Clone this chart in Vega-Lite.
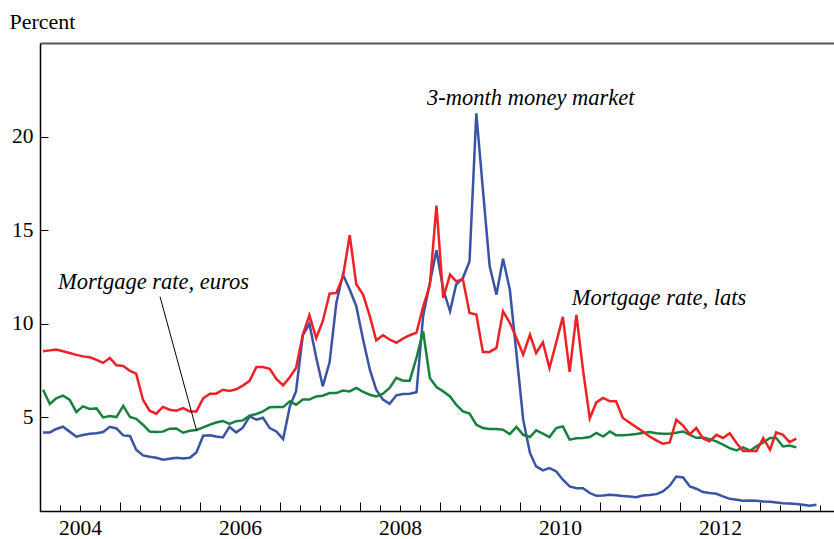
{
  "$schema": "https://vega.github.io/schema/vega-lite/v6.json",
  "width": 794,
  "height": 468,
  "autosize": {"type": "none"},
  "padding": {"left": 40, "top": 43, "right": 0, "bottom": 28},
  "background": "white",
  "config": {
    "view": {"stroke": null},
    "font": "Liberation Serif",
    "axis": {"grid": false, "labelFont": "Liberation Serif", "labelFontSize": 21.5, "labelColor": "black", "tickColor": "black", "domainColor": "black", "titleFont": "Liberation Serif"}
  },
  "resolve": {"axis": {"x": "independent", "y": "shared"}},
  "layer": [
    {
      "data": {"values": [
        {"date":"2004-01-15","money":4.20,"lats":8.53,"euros":6.48},
        {"date":"2004-02-15","money":4.20,"lats":8.58,"euros":5.72},
        {"date":"2004-03-15","money":4.38,"lats":8.62,"euros":6.02},
        {"date":"2004-04-15","money":4.50,"lats":8.53,"euros":6.16},
        {"date":"2004-05-15","money":4.24,"lats":8.44,"euros":5.95},
        {"date":"2004-06-15","money":3.97,"lats":8.34,"euros":5.29},
        {"date":"2004-07-15","money":4.06,"lats":8.26,"euros":5.59},
        {"date":"2004-08-15","money":4.13,"lats":8.21,"euros":5.45},
        {"date":"2004-09-15","money":4.15,"lats":8.07,"euros":5.48},
        {"date":"2004-10-15","money":4.22,"lats":7.91,"euros":5.00},
        {"date":"2004-11-15","money":4.50,"lats":8.18,"euros":5.07},
        {"date":"2004-12-15","money":4.41,"lats":7.78,"euros":5.02},
        {"date":"2005-01-15","money":4.04,"lats":7.75,"euros":5.62},
        {"date":"2005-02-15","money":4.01,"lats":7.48,"euros":5.02},
        {"date":"2005-03-15","money":3.27,"lats":7.34,"euros":4.92},
        {"date":"2005-04-15","money":2.97,"lats":5.95,"euros":4.61},
        {"date":"2005-05-15","money":2.90,"lats":5.36,"euros":4.25},
        {"date":"2005-06-15","money":2.84,"lats":5.20,"euros":4.22},
        {"date":"2005-07-15","money":2.74,"lats":5.56,"euros":4.24},
        {"date":"2005-08-15","money":2.79,"lats":5.41,"euros":4.40},
        {"date":"2005-09-15","money":2.84,"lats":5.36,"euros":4.41},
        {"date":"2005-10-15","money":2.81,"lats":5.50,"euros":4.18},
        {"date":"2005-11-15","money":2.84,"lats":5.32,"euros":4.29},
        {"date":"2005-12-15","money":3.13,"lats":5.32,"euros":4.33},
        {"date":"2006-01-15","money":4.02,"lats":6.02,"euros":4.47},
        {"date":"2006-02-15","money":4.04,"lats":6.27,"euros":4.61},
        {"date":"2006-03-15","money":3.98,"lats":6.27,"euros":4.73},
        {"date":"2006-04-15","money":3.93,"lats":6.48,"euros":4.81},
        {"date":"2006-05-15","money":4.49,"lats":6.41,"euros":4.65},
        {"date":"2006-06-15","money":4.20,"lats":6.50,"euros":4.80},
        {"date":"2006-07-15","money":4.45,"lats":6.70,"euros":4.84},
        {"date":"2006-08-15","money":5.05,"lats":6.95,"euros":5.09},
        {"date":"2006-09-15","money":4.88,"lats":7.69,"euros":5.18},
        {"date":"2006-10-15","money":4.98,"lats":7.69,"euros":5.32},
        {"date":"2006-11-15","money":4.43,"lats":7.59,"euros":5.54},
        {"date":"2006-12-15","money":4.25,"lats":7.05,"euros":5.55},
        {"date":"2007-01-15","money":3.84,"lats":6.71,"euros":5.55},
        {"date":"2007-02-15","money":5.60,"lats":7.16,"euros":5.86},
        {"date":"2007-03-15","money":6.40,"lats":7.64,"euros":5.68},
        {"date":"2007-04-15","money":9.40,"lats":9.42,"euros":5.95},
        {"date":"2007-05-15","money":10.00,"lats":10.46,"euros":5.95},
        {"date":"2007-06-15","money":8.20,"lats":9.24,"euros":6.12},
        {"date":"2007-07-15","money":6.66,"lats":10.14,"euros":6.16},
        {"date":"2007-08-15","money":7.94,"lats":11.61,"euros":6.30},
        {"date":"2007-09-15","money":11.12,"lats":11.65,"euros":6.30},
        {"date":"2007-10-15","money":12.63,"lats":12.51,"euros":6.43},
        {"date":"2007-11-15","money":11.83,"lats":14.73,"euros":6.39},
        {"date":"2007-12-15","money":10.94,"lats":12.11,"euros":6.57},
        {"date":"2008-01-15","money":9.16,"lats":11.56,"euros":6.36},
        {"date":"2008-02-15","money":7.55,"lats":10.40,"euros":6.21},
        {"date":"2008-03-15","money":6.48,"lats":9.12,"euros":6.12},
        {"date":"2008-04-15","money":5.95,"lats":9.39,"euros":6.27},
        {"date":"2008-05-15","money":5.73,"lats":9.16,"euros":6.57},
        {"date":"2008-06-15","money":6.18,"lats":8.99,"euros":7.11},
        {"date":"2008-07-15","money":6.25,"lats":9.21,"euros":6.96},
        {"date":"2008-08-15","money":6.26,"lats":9.39,"euros":6.96},
        {"date":"2008-09-15","money":6.34,"lats":9.53,"euros":8.20},
        {"date":"2008-10-15","money":10.40,"lats":10.90,"euros":9.60},
        {"date":"2008-11-15","money":12.19,"lats":12.08,"euros":7.11},
        {"date":"2008-12-15","money":13.93,"lats":16.32,"euros":6.62},
        {"date":"2009-01-15","money":11.83,"lats":11.38,"euros":6.39},
        {"date":"2009-02-15","money":10.67,"lats":12.63,"euros":6.12},
        {"date":"2009-03-15","money":12.10,"lats":12.27,"euros":5.68},
        {"date":"2009-04-15","money":12.45,"lats":12.36,"euros":5.32},
        {"date":"2009-05-15","money":13.34,"lats":10.58,"euros":5.20},
        {"date":"2009-06-15","money":21.24,"lats":10.49,"euros":4.61},
        {"date":"2009-07-15","money":17.18,"lats":8.50,"euros":4.43},
        {"date":"2009-08-15","money":13.07,"lats":8.50,"euros":4.38},
        {"date":"2009-09-15","money":11.56,"lats":8.71,"euros":4.38},
        {"date":"2009-10-15","money":13.47,"lats":10.67,"euros":4.34},
        {"date":"2009-11-15","money":11.83,"lats":10.05,"euros":4.11},
        {"date":"2009-12-15","money":8.44,"lats":9.24,"euros":4.49},
        {"date":"2010-01-15","money":4.88,"lats":8.35,"euros":4.07},
        {"date":"2010-02-15","money":3.10,"lats":9.42,"euros":3.95},
        {"date":"2010-03-15","money":2.38,"lats":8.44,"euros":4.31},
        {"date":"2010-04-15","money":2.17,"lats":9.01,"euros":4.13},
        {"date":"2010-05-15","money":2.29,"lats":7.64,"euros":3.95},
        {"date":"2010-06-15","money":2.11,"lats":9.01,"euros":4.43},
        {"date":"2010-07-15","money":1.67,"lats":10.37,"euros":4.52},
        {"date":"2010-08-15","money":1.31,"lats":7.43,"euros":3.81},
        {"date":"2010-09-15","money":1.22,"lats":10.47,"euros":3.88},
        {"date":"2010-10-15","money":1.22,"lats":7.55,"euros":3.90},
        {"date":"2010-11-15","money":0.96,"lats":4.95,"euros":3.95},
        {"date":"2010-12-15","money":0.81,"lats":5.80,"euros":4.17},
        {"date":"2011-01-15","money":0.83,"lats":6.04,"euros":3.98},
        {"date":"2011-02-15","money":0.87,"lats":5.86,"euros":4.25},
        {"date":"2011-03-15","money":0.84,"lats":5.86,"euros":4.05},
        {"date":"2011-04-15","money":0.80,"lats":4.97,"euros":4.05},
        {"date":"2011-05-15","money":0.78,"lats":4.73,"euros":4.07},
        {"date":"2011-06-15","money":0.74,"lats":4.48,"euros":4.11},
        {"date":"2011-07-15","money":0.83,"lats":4.25,"euros":4.17},
        {"date":"2011-08-15","money":0.85,"lats":3.98,"euros":4.22},
        {"date":"2011-09-15","money":0.90,"lats":3.77,"euros":4.15},
        {"date":"2011-10-15","money":1.04,"lats":3.59,"euros":4.13},
        {"date":"2011-11-15","money":1.35,"lats":3.66,"euros":4.13},
        {"date":"2011-12-15","money":1.84,"lats":4.88,"euros":4.18},
        {"date":"2012-01-15","money":1.79,"lats":4.56,"euros":4.25},
        {"date":"2012-02-15","money":1.31,"lats":4.10,"euros":4.07},
        {"date":"2012-03-15","money":1.19,"lats":4.43,"euros":3.91},
        {"date":"2012-04-15","money":1.01,"lats":3.87,"euros":3.93},
        {"date":"2012-05-15","money":0.96,"lats":3.72,"euros":3.84},
        {"date":"2012-06-15","money":0.92,"lats":4.07,"euros":3.72},
        {"date":"2012-07-15","money":0.78,"lats":3.90,"euros":3.54},
        {"date":"2012-08-15","money":0.65,"lats":4.15,"euros":3.36},
        {"date":"2012-09-15","money":0.60,"lats":3.63,"euros":3.24},
        {"date":"2012-10-15","money":0.55,"lats":3.20,"euros":3.40},
        {"date":"2012-11-15","money":0.56,"lats":3.20,"euros":3.22},
        {"date":"2012-12-15","money":0.55,"lats":3.20,"euros":3.45},
        {"date":"2013-01-15","money":0.51,"lats":3.90,"euros":3.66},
        {"date":"2013-02-15","money":0.49,"lats":3.27,"euros":3.90},
        {"date":"2013-03-15","money":0.46,"lats":4.20,"euros":3.90},
        {"date":"2013-04-15","money":0.42,"lats":4.07,"euros":3.45},
        {"date":"2013-05-15","money":0.40,"lats":3.68,"euros":3.50},
        {"date":"2013-06-15","money":0.37,"lats":3.86,"euros":3.40},
        {"date":"2013-07-15","money":0.33,"lats":null,"euros":null},
        {"date":"2013-08-15","money":0.28,"lats":null,"euros":null},
        {"date":"2013-09-15","money":0.33,"lats":null,"euros":null}
      ]},
      "transform": [
        {"fold": ["money", "euros", "lats"], "as": ["series", "value"]},
        {"filter": "datum.value != null"}
      ],
      "mark": {"type": "line", "strokeWidth": 2.5},
      "encoding": {
        "x": {
          "field": "date", "type": "temporal",
          "scale": {"type": "utc", "domain": [{"year": 2004, "month": 1, "date": 1, "utc": true}, {"year": 2013, "month": 12, "date": 4, "utc": true}]},
          "axis": {"orient": "bottom", "tickCount": {"interval": "month", "step": 3}, "labels": false, "tickSize": -6, "domainColor": "black", "domainWidth": 1.5, "title": null}
        },
        "y": {
          "field": "value", "type": "quantitative",
          "scale": {"domain": [0, 25], "nice": false},
          "axis": {"values": [5, 10, 15, 20], "tickSize": -8, "labelPadding": 15, "domainWidth": 1.5, "domainColor": "black",
                   "title": "Percent", "titleAngle": 0, "titleX": -31, "titleY": -15, "titleAlign": "left", "titleBaseline": "alphabetic",
                   "titleFontSize": 22, "titleFontWeight": "normal", "titleColor": "black", "titleFont": "Liberation Serif"}
        },
        "color": {
          "field": "series", "type": "nominal",
          "scale": {"domain": ["money", "euros", "lats"], "range": ["#3a53a4", "#17813f", "#ec2227"]},
          "legend": null
        }
      }
    },
    {
      "data": {"values": [
        {"label": "3-month money market", "date": "2008-11-02", "value": 21.70},
        {"label": "Mortgage rate, euros", "date": "2004-03-23", "value": 11.84},
        {"label": "Mortgage rate, lats", "date": "2010-08-25", "value": 11.03}
      ]},
      "mark": {"type": "text", "align": "left", "baseline": "alphabetic", "font": "Liberation Serif", "fontStyle": "italic", "fontSize": 22.5, "color": "black"},
      "encoding": {
        "x": {"field": "date", "type": "temporal",
              "axis": {"orient": "top", "labels": false, "ticks": false, "domainColor": "#555555", "domainWidth": 2, "title": null}},
        "y": {"field": "value", "type": "quantitative"},
        "text": {"field": "label"}
      }
    },
    {
      "data": {"values": [
        {"date": "2005-07-02", "value": 11.45, "date2": "2005-12-16", "value2": 4.29}
      ]},
      "mark": {"type": "rule", "color": "black", "strokeWidth": 1},
      "encoding": {
        "x": {"field": "date", "type": "temporal",
              "axis": {"orient": "bottom", "tickCount": {"interval": "year", "step": 1}, "tickSize": -9, "domain": false,
                       "labelExpr": "utcyear(datum.value) % 2 == 0 ? utcFormat(datum.value, '%Y') : ''",
                       "labelOffset": 40, "labelPadding": 15, "labelOverlap": false, "labelFlush": false, "labelBaseline": "top", "title": null}},
        "y": {"field": "value", "type": "quantitative"},
        "x2": {"field": "date2"},
        "y2": {"field": "value2"}
      }
    }
  ]
}
